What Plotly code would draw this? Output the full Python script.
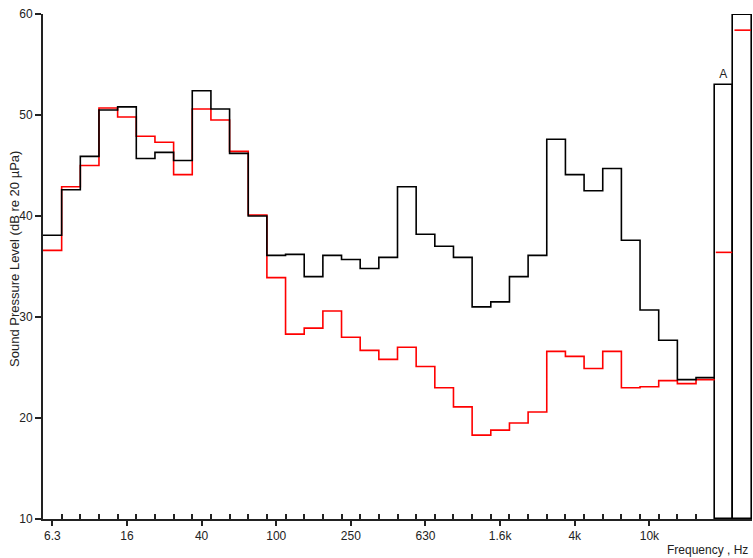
import plotly.graph_objects as go

# 1/3-octave band names (6.3 Hz .. 20 kHz)
bands = ["6.3", "8", "10", "12.5", "16", "20", "25", "31.5", "40", "50", "63", "80",
         "100", "125", "160", "200", "250", "315", "400", "500", "630", "800", "1k",
         "1.25k", "1.6k", "2k", "2.5k", "3.15k", "4k", "5k", "6.3k", "8k", "10k",
         "12.5k", "16k", "20k"]
labelled = ["6.3", "16", "40", "100", "250", "630", "1.6k", "4k", "10k"]

black_levels = [38.1, 42.6, 45.9, 50.5, 50.8, 45.7, 46.3, 45.5, 52.4, 50.6, 46.2, 40.0,
                36.1, 36.2, 34.0, 36.1, 35.7, 34.8, 35.9, 42.9, 38.2, 37.0, 35.9, 31.0,
                31.5, 34.0, 36.1, 47.6, 44.1, 42.5, 44.7, 37.6, 30.7, 27.7, 23.8, 24.0]
red_levels = [36.6, 42.9, 45.0, 50.7, 49.8, 47.9, 47.3, 44.1, 50.6, 49.5, 46.4, 40.1,
              33.9, 28.3, 28.9, 30.6, 28.0, 26.7, 25.8, 27.0, 25.1, 23.0, 21.1, 18.3,
              18.8, 19.5, 20.6, 26.6, 26.1, 24.9, 26.6, 23.0, 23.1, 23.7, 23.4, 23.8]

# overall levels: A-weighted and linear
overall_names = ["A", ""]
overall_black = [53.0, 59.9]
overall_red = [36.4, 58.4]

y_min, y_max = 10, 60
n = len(bands)
edges = list(range(n + 1))

fig = go.Figure()

fig.add_trace(go.Scatter(x=edges, y=red_levels + [red_levels[-1]], mode="lines",
                         line=dict(shape="hv", color="#ff0000", width=1.6),
                         hoverinfo="skip", showlegend=False))
fig.add_trace(go.Scatter(x=edges, y=black_levels + [black_levels[-1]], mode="lines",
                         line=dict(shape="hv", color="#000000", width=1.6),
                         hoverinfo="skip", showlegend=False))

# overall bars
ox = [n + 0.5 + i for i in range(len(overall_black))]
fig.add_trace(go.Bar(x=ox, y=[v - y_min for v in overall_black], base=y_min, width=1,
                     marker=dict(color="rgba(255,255,255,0)",
                                 line=dict(color="#000000", width=1.6)),
                     text=overall_names, textposition="outside", cliponaxis=False,
                     textfont=dict(size=12, color="#222222"),
                     hoverinfo="skip", showlegend=False))
rx, ry = [], []
for i, v in enumerate(overall_red):
    rx += [n + i + 0.06, n + i + 0.94, None]
    ry += [v, v, None]
fig.add_trace(go.Scatter(x=rx, y=ry, mode="lines",
                         line=dict(color="#ff0000", width=1.6),
                         hoverinfo="skip", showlegend=False))

tickvals = [bands.index(b) + 0.5 for b in labelled]

fig.update_layout(
    width=753, height=558,
    margin=dict(l=43, r=1, t=14, b=39),
    plot_bgcolor="white", paper_bgcolor="white",
    font=dict(family="Liberation Sans, Arial, sans-serif", size=12, color="#222222"),
    bargap=0,
    xaxis=dict(range=[0, n + len(overall_black)], showgrid=False, zeroline=False,
               showline=True, linecolor="#222222", linewidth=2,
               tickmode="array", tickvals=tickvals, ticktext=labelled,
               ticks="outside", ticklen=5, tickwidth=1.5, tickcolor="#222222",
               ticklabeloverflow="allow",
               minor=dict(tickmode="array", tickvals=list(range(1, n)),
                          ticks="inside", ticklen=5, tickwidth=1.5,
                          tickcolor="#222222", showgrid=False)),
    yaxis=dict(range=[y_min, y_max], showgrid=False, zeroline=False,
               showline=True, linecolor="#222222", linewidth=2,
               dtick=10, ticks="outside", ticklen=6, tickwidth=1.5,
               tickcolor="#222222", ticklabeloverflow="allow"),
    annotations=[
        dict(text="Sound Pressure Level (dB re 20 µPa)", textangle=-90,
             xref="paper", yref="paper", x=-0.0395, y=0.515,
             xanchor="center", yanchor="middle", showarrow=False,
             font=dict(size=13, color="#222222")),
        dict(text="Frequency , Hz", xref="paper", yref="paper",
             x=0.997, y=-0.0614, xanchor="right", yanchor="middle",
             showarrow=False, font=dict(size=12, color="#222222")),
    ],
)

fig.write_html("out.html", config={"displayModeBar": False},
               post_script="document.body.style.margin='0';")
